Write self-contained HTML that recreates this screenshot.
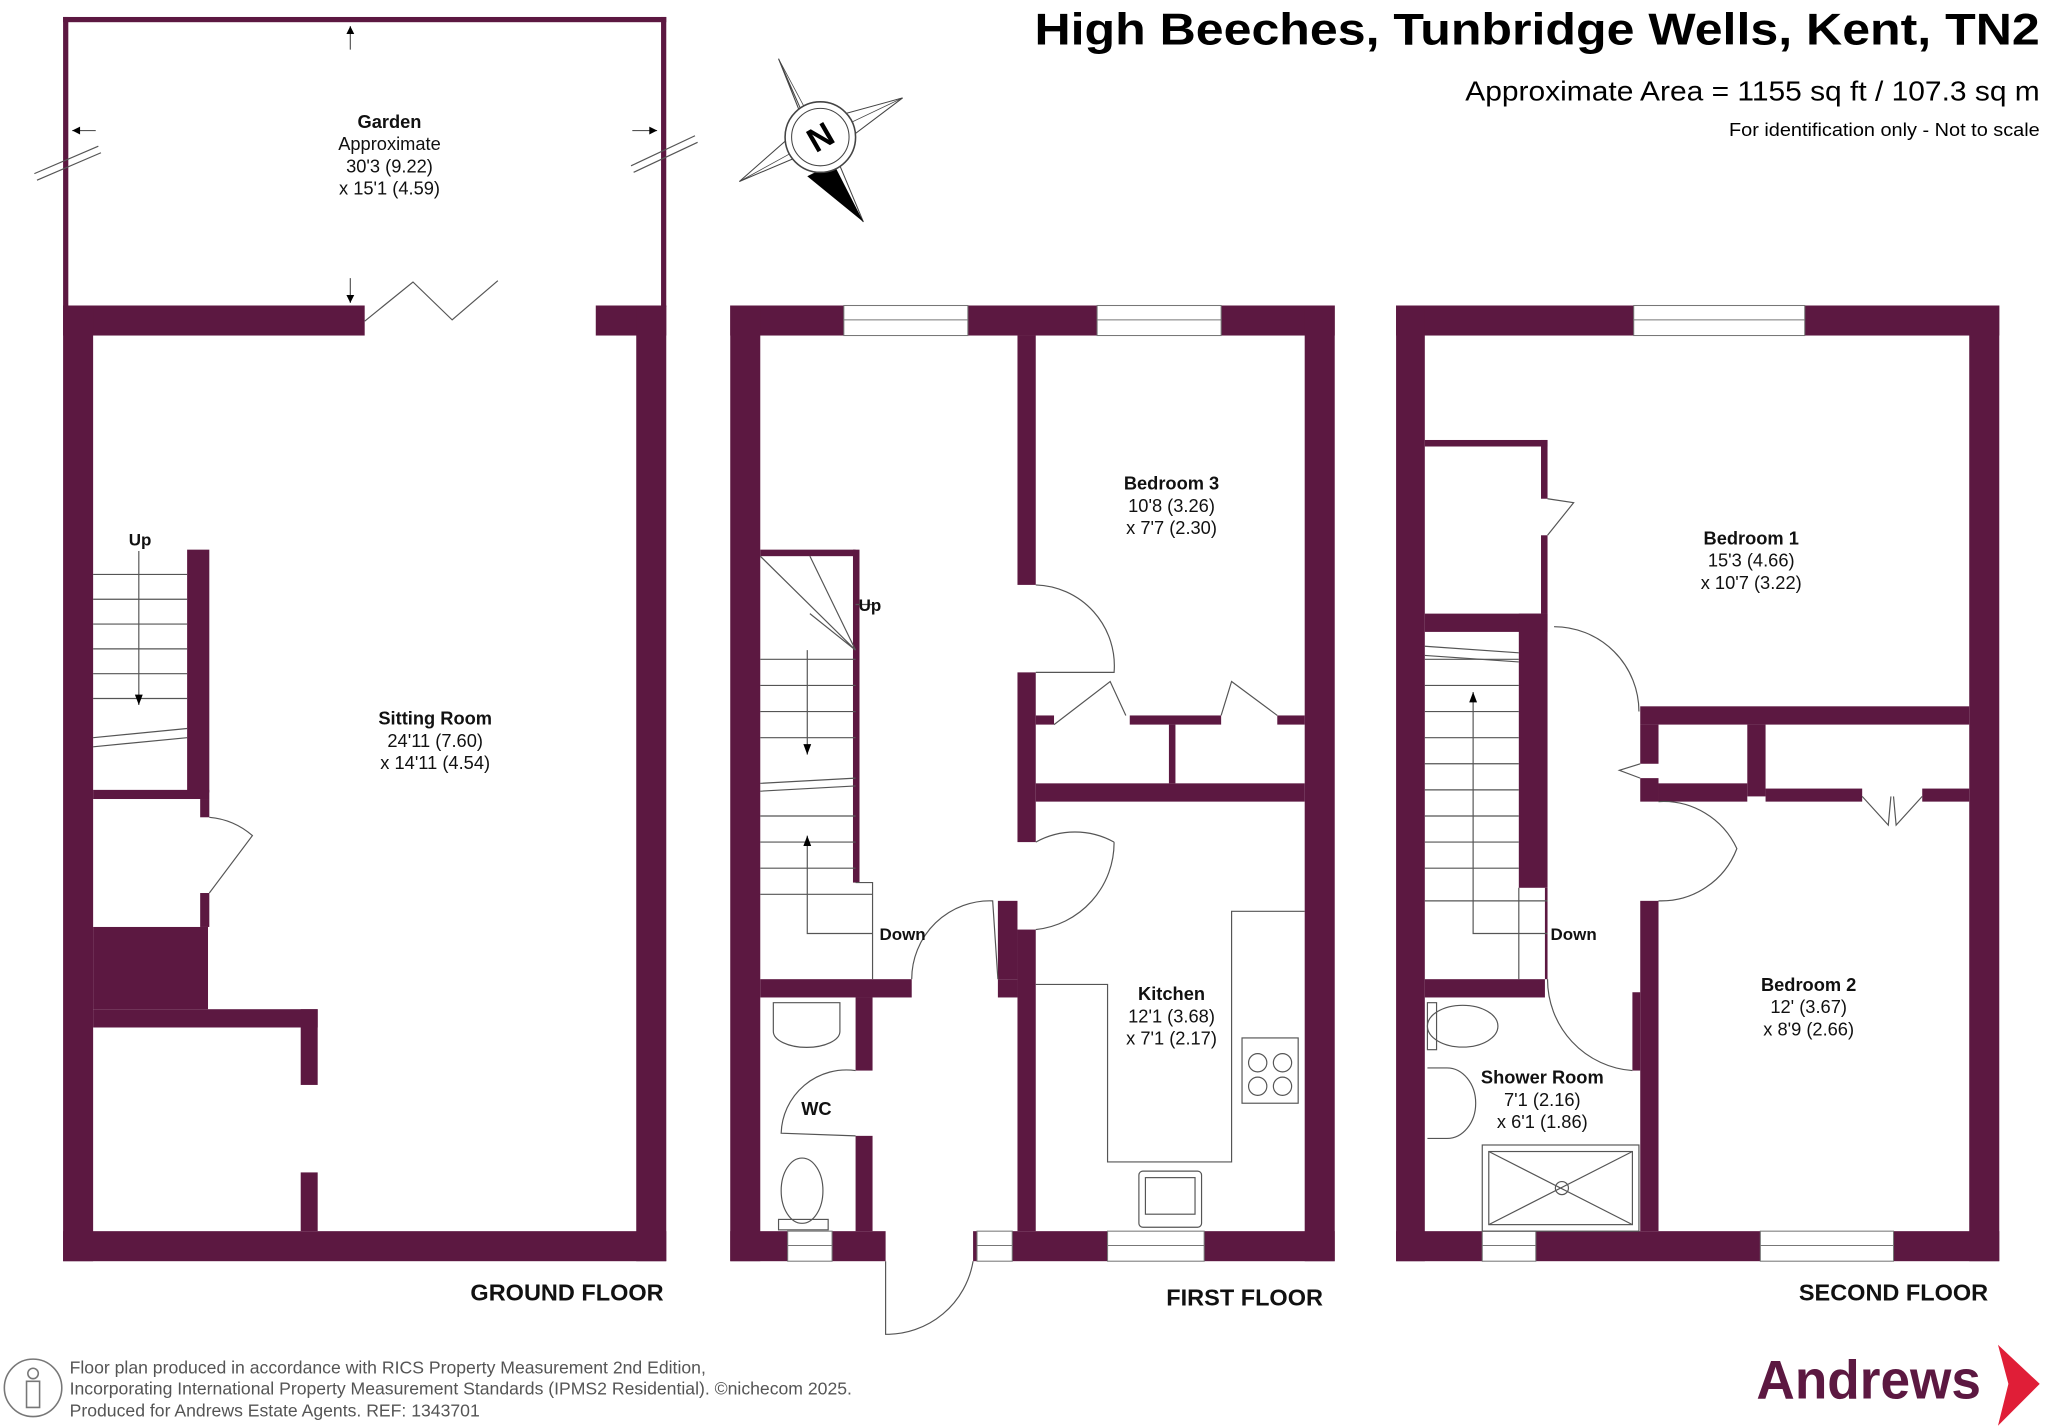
<!DOCTYPE html>
<html><head><meta charset="utf-8"><style>html,body{margin:0;padding:0;background:#fff}svg{display:block}</style></head>
<body>
<svg width="2048" height="1427" viewBox="0 0 1568 1093" xmlns="http://www.w3.org/2000/svg" font-family="'Liberation Sans Narrow','Liberation Sans',sans-serif">
<rect width="1568" height="1093" fill="#fff"/>
<g fill="#5c1841">
<!-- GROUND FLOOR -->
<rect x="48" y="13" width="462" height="4"/>
<rect x="48" y="13" width="4" height="222"/>
<rect x="506" y="13" width="4" height="222"/>
<rect x="48" y="234" width="231" height="23"/>
<rect x="456" y="234" width="54" height="23"/>
<rect x="48" y="234" width="23" height="732"/>
<rect x="487" y="234" width="23" height="732"/>
<rect x="48" y="943" width="462" height="23"/>
<rect x="143" y="421" width="17" height="186"/>
<rect x="71" y="605" width="89" height="7"/>
<rect x="153" y="612" width="7" height="14"/>
<rect x="153" y="684" width="7" height="26"/>
<rect x="71" y="710" width="88" height="63"/>
<rect x="71" y="773" width="172" height="14"/>
<rect x="230" y="773" width="13" height="58"/>
<rect x="230" y="898" width="13" height="45"/>
<!-- FIRST FLOOR -->
<rect x="559" y="234" width="463" height="23"/>
<rect x="559" y="234" width="23" height="732"/>
<rect x="999" y="234" width="23" height="732"/>
<rect x="559" y="943" width="119" height="23"/>
<rect x="745" y="943" width="277" height="23"/>
<rect x="779" y="257" width="14" height="191"/>
<rect x="779" y="515" width="14" height="130"/>
<rect x="779" y="712" width="14" height="231"/>
<rect x="764" y="690" width="15" height="60"/>
<rect x="793" y="548" width="14" height="7"/>
<rect x="865" y="548" width="70" height="7"/>
<rect x="978" y="548" width="21" height="7"/>
<rect x="895" y="555" width="5" height="45"/>
<rect x="793" y="600" width="206" height="14"/>
<rect x="582" y="421" width="73" height="5"/>
<rect x="653" y="421" width="5" height="255"/>
<rect x="582" y="750" width="116" height="14"/>
<rect x="764" y="750" width="15" height="14"/>
<rect x="655" y="764" width="13" height="56"/>
<rect x="655" y="870" width="13" height="73"/>
<!-- SECOND FLOOR -->
<rect x="1069" y="234" width="462" height="23"/>
<rect x="1069" y="234" width="22" height="732"/>
<rect x="1508" y="234" width="23" height="732"/>
<rect x="1069" y="943" width="462" height="23"/>
<rect x="1091" y="337" width="94" height="5"/>
<rect x="1180" y="337" width="5" height="45"/>
<rect x="1180" y="410" width="5" height="60"/>
<rect x="1091" y="470" width="94" height="14"/>
<rect x="1163" y="470" width="22" height="210"/>
<rect x="1256" y="541" width="252" height="14"/>
<rect x="1256" y="555" width="14" height="30"/>
<rect x="1256" y="596" width="14" height="18"/>
<rect x="1256" y="690" width="14" height="253"/>
<rect x="1338" y="555" width="14" height="55"/>
<rect x="1270" y="600" width="68" height="14"/>
<rect x="1352" y="604" width="74" height="10"/>
<rect x="1472" y="604" width="36" height="10"/>
<rect x="1091" y="750" width="92" height="14"/>
<rect x="1250" y="760" width="6" height="60"/>
<rect x="1183" y="680" width="2" height="70"/>
</g>
<!-- windows -->
<g fill="#fff" stroke="#777" stroke-width="0.8">
<rect x="646" y="234" width="95" height="23"/><line x1="646" y1="245" x2="741" y2="245"/>
<rect x="840" y="234" width="95" height="23"/><line x1="840" y1="245" x2="935" y2="245"/>
<rect x="1251" y="234" width="131" height="23"/><line x1="1251" y1="245" x2="1382" y2="245"/>
<rect x="603" y="943" width="34" height="23"/><line x1="603" y1="954" x2="637" y2="954"/>
<rect x="748" y="943" width="27" height="23"/><line x1="748" y1="954" x2="775" y2="954"/>
<rect x="848" y="943" width="74" height="23"/><line x1="848" y1="954" x2="922" y2="954"/>
<rect x="1135" y="943" width="41" height="23"/><line x1="1135" y1="954" x2="1176" y2="954"/>
<rect x="1348" y="943" width="102" height="23"/><line x1="1348" y1="954" x2="1450" y2="954"/>
</g>
<!-- thin lines -->
<g fill="none" stroke="#555" stroke-width="0.9">
<path d="M279,246 L316,216 L346,245 L381,215"/>
<path d="M26,133 L75,112 M28,138 L77,117"/>
<path d="M483,127 L532,104 M485,132 L534,109"/>
<path d="M268,20 V38 M268,213 V232 M55,100 H73 M484,100 H503"/>
<!-- GF stairs -->
<path d="M71,440 H143 M71,459 H143 M71,478 H143 M71,497 H143 M71,516 H143 M71,535 H143 M71,565 L143,558 M71,572 L143,565"/>
<path d="M106,422 V540"/>
<path d="M160,626 A58,58 0 0 1 193,640 L160,684"/>
<!-- FF stairs -->
<path d="M582,505 H655 M582,525 H655 M582,545 H655 M582,565 H655 M582,600 L655,596 M582,606 L655,602 M582,625 H655 M582,645 H655 M582,665 H655 M582,685 H668"/>
<path d="M582,426 L655,498 M620,426 L655,498 M620,470 L655,498 M655,463 H668 M618,498 V578 M618,640 V715 H668 M655,676 H668 V750"/>
<!-- doors FF -->
<path d="M793,448 A62,62 0 0 1 853,515 L793,515"/>
<path d="M807,555 L850,522 L862,548 M935,548 L943,522 L978,548"/>
<path d="M793,645 A62,62 0 0 1 853,645 M793,712 A67,67 0 0 0 853,645"/>
<path d="M698,750 A60,60 0 0 1 760,690 L764,750"/>
<path d="M678,966 V1022 A67,67 0 0 0 745,966"/>
<path d="M655,820 A50,50 0 0 0 598,868 L655,870"/>
<!-- kitchen -->
<path d="M793,754 H848 V890 H943 V698 H999"/>
<rect x="951" y="795" width="43" height="50"/>
<circle cx="963" cy="814" r="7"/><circle cx="982" cy="814" r="7"/><circle cx="963" cy="832" r="7"/><circle cx="982" cy="832" r="7"/>
<rect x="872" y="897" width="48" height="43" rx="3"/><rect x="877" y="902" width="38" height="28"/>
<!-- WC fixtures -->
<path d="M592,768 H643 V790 A25,12 0 0 1 592,790 Z"/>
<ellipse cx="614" cy="912" rx="16" ry="25"/><rect x="596" y="934" width="38" height="8"/>
<!-- SF cupboard -->
<path d="M1185,382 L1205,385 L1185,410"/>
<!-- SF stairs -->
<path d="M1091,505 H1163 M1091,525 H1163 M1091,545 H1163 M1091,565 H1163 M1091,585 H1163 M1091,605 H1163 M1091,625 H1163 M1091,645 H1163 M1091,665 H1163 M1091,690 H1185"/>
<path d="M1091,495 L1163,500 M1091,502 L1163,507"/>
<path d="M1128,530 V715 H1185 M1163,680 V750"/>
<path d="M1190,480 A65,65 0 0 1 1255,545 M1250,820 A70,70 0 0 1 1185,750"/>
<path d="M1256,585 L1240,590 L1256,596"/>
<path d="M1270,614 A62,62 0 0 1 1330,650 A62,62 0 0 1 1270,690"/>
<path d="M1426,610 L1446,632 L1448,610 M1472,610 L1452,632 L1450,610"/>
<!-- shower room -->
<ellipse cx="1120" cy="786" rx="27" ry="16"/><rect x="1093" y="768" width="7" height="36"/>
<path d="M1093,818 H1108 A22,27 0 0 1 1108,872 H1093"/>
<rect x="1135" y="877" width="120" height="66"/><rect x="1140" y="882" width="110" height="56"/>
<path d="M1140,882 L1250,938 M1250,882 L1140,938"/><circle cx="1196" cy="910" r="5"/>
</g>
<g fill="#000"><path d="M106,540 l-3,-8 h6z"/><path d="M618,578 l-3,-8 h6z M618,640 l-3,8 h6z M1128,530 l-3,8 h6z"/>
<path d="M268,20 l-3,6 h6z M268,232 l-3,-6 h6z M55,100 l6,-3 v6z M503,100 l-6,-3 v6z"/></g>
<!-- compass -->
<g transform="translate(628,105)">
<path d="M-32,-60 L-10,-10 L63,-30 L10,10 L33,65 L-10,12 L-62,34 L-12,-10 Z" fill="#fff" stroke="#444" stroke-width="0.8"/>
<path d="M-32,-60 L0,0 M63,-30 L0,0 M-62,34 L0,0" stroke="#444" stroke-width="0.6"/>
<path d="M10,20 L33,65 L-10,30 Z" fill="#000"/>
<circle r="27" fill="#fff" stroke="#444" stroke-width="1.2"/><circle r="22" fill="none" stroke="#444" stroke-width="0.8"/>
<text x="0" y="9" font-size="26" font-weight="bold" text-anchor="middle" font-family="'Liberation Sans',sans-serif" transform="rotate(-30)">N</text>
</g>
<!-- text -->
<g font-size="14" text-anchor="middle" fill="#111">
<text x="298" y="98" font-weight="bold">Garden</text>
<text x="298" y="115">Approximate</text><text x="298" y="132">30'3 (9.22)</text><text x="298" y="149">x 15'1 (4.59)</text>
<text x="107" y="418" font-weight="bold" font-size="13">Up</text>
<text x="333" y="555" font-weight="bold">Sitting Room</text><text x="333" y="572">24'11 (7.60)</text><text x="333" y="589">x 14'11 (4.54)</text>
<text x="897" y="375" font-weight="bold">Bedroom 3</text><text x="897" y="392">10'8 (3.26)</text><text x="897" y="409">x 7'7 (2.30)</text>
<text x="666" y="468" font-weight="bold" font-size="13">Up</text>
<text x="691" y="720" font-weight="bold" font-size="13">Down</text>
<text x="897" y="766" font-weight="bold">Kitchen</text><text x="897" y="783">12'1 (3.68)</text><text x="897" y="800">x 7'1 (2.17)</text>
<text x="625" y="854" font-weight="bold">WC</text>
<text x="1341" y="417" font-weight="bold">Bedroom 1</text><text x="1341" y="434">15'3 (4.66)</text><text x="1341" y="451">x 10'7 (3.22)</text>
<text x="1205" y="720" font-weight="bold" font-size="13">Down</text>
<text x="1385" y="759" font-weight="bold">Bedroom 2</text><text x="1385" y="776">12' (3.67)</text><text x="1385" y="793">x 8'9 (2.66)</text>
<text x="1181" y="830" font-weight="bold">Shower Room</text><text x="1181" y="847">7'1 (2.16)</text><text x="1181" y="864">x 6'1 (1.86)</text>
<text x="434" y="996" font-weight="bold" font-size="18">GROUND FLOOR</text>
<text x="953" y="1000" font-weight="bold" font-size="18">FIRST FLOOR</text>
<text x="1450" y="996" font-weight="bold" font-size="18">SECOND FLOOR</text>
</g>
<g font-family="'Liberation Sans',sans-serif" text-anchor="end" fill="#000">
<text x="1562" y="34" font-size="34" font-weight="bold" textLength="770" lengthAdjust="spacingAndGlyphs">High Beeches, Tunbridge Wells, Kent, TN2</text>
<text x="1562" y="77" font-size="21" textLength="440" lengthAdjust="spacingAndGlyphs">Approximate Area = 1155 sq ft / 107.3 sq m</text>
<text x="1562" y="104" font-size="14" textLength="238" lengthAdjust="spacingAndGlyphs">For identification only - Not to scale</text>
</g>
<g font-size="13.5" fill="#555">
<text x="53" y="1052">Floor plan produced in accordance with RICS Property Measurement 2nd Edition,</text>
<text x="53" y="1068">Incorporating International Property Measurement Standards (IPMS2 Residential).   ©nichecom 2025.</text>
<text x="53" y="1085">Produced for Andrews Estate Agents.   REF: 1343701</text>
</g>
<g fill="none" stroke="#777" stroke-width="1.2"><circle cx="25" cy="1063" r="22"/><circle cx="25" cy="1052" r="4"/><path d="M20,1058 h10 v20 h-10 z"/></g>
<text x="1517" y="1071" text-anchor="end" font-family="'Liberation Sans',sans-serif" font-size="42" font-weight="bold" fill="#5c1841" textLength="172" lengthAdjust="spacingAndGlyphs">Andrews</text>
<path d="M1530,1030 L1562,1060 L1530,1092 L1538,1060 Z" fill="#e01e37"/>
</svg>
</body></html>
